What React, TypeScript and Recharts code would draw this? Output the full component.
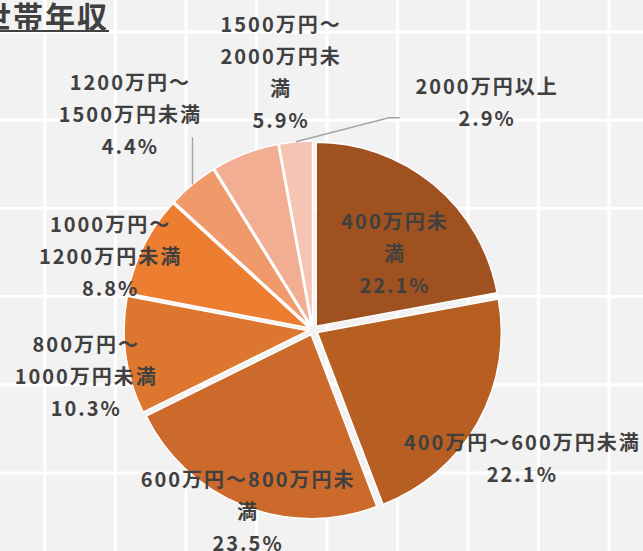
import React from "react";
import { PieChart, Pie, Cell, Sector } from "recharts";

// 世帯年収の分布 (%)
const categories = [
  "400万円未満",
  "400万円～600万円未満",
  "600万円～800万円未満",
  "800万円～1000万円未満",
  "1000万円～1200万円未満",
  "1200万円～1500万円未満",
  "1500万円～2000万円未満",
  "2000万円以上",
];
const shares = [22.1, 22.1, 23.5, 10.3, 8.8, 4.4, 5.9, 2.9];

// how each category name wraps in its label
const nameLines = [
  ["400万円未", "満"],
  ["400万円～600万円未満"],
  ["600万円～800万円未", "満"],
  ["800万円～", "1000万円未満"],
  ["1000万円～", "1200万円未満"],
  ["1200万円～", "1500万円未満"],
  ["1500万円～", "2000万円未", "満"],
  ["2000万円以上"],
];

const colors = [
  "#9f521f",
  "#b75f22",
  "#cb6a2b",
  "#dd772f",
  "#ed7d31",
  "#f0996b",
  "#f2ae93",
  "#f5c4b3",
];

// label placement: radius factor along the slice middle, plus a nudge
const labelPos = [
  { f: 0.62, dx: 9, dy: 10 },
  { f: 1.33, dx: -4, dy: 7 },
  { f: 1.04, dx: 5, dy: 2 },
  { f: 1.26, dx: 3, dy: 14 },
  { f: 1.17, dx: -10, dy: 22 },
  { f: 1.54, dx: -2, dy: 1 },
  { f: 1.42, dx: 62, dy: -15 },
  { f: 1.25, dx: 195, dy: 0 },
];

// leader lines, points relative to the slice's outer middle point
const leaders: Record<number, [number, number][]> = {
  5: [[0, -47]],
  7: [
    [93, -24],
    [104, -24],
  ],
};

const data = categories.map((name, i) => ({ name, value: shares[i] }));

const RAD = Math.PI / 180;
const EXPLODE = 5;
const FONT = "'Noto Sans CJK JP', 'Noto Sans', sans-serif";
const LINE_H = 32;

const ExplodedSector = (props: any) => {
  const a = -props.midAngle * RAD;
  return (
    <Sector
      {...props}
      cx={props.cx + EXPLODE * Math.cos(a)}
      cy={props.cy + EXPLODE * Math.sin(a)}
    />
  );
};

const renderLabel = (props: any) => {
  const { cx, cy, midAngle, outerRadius, index, value } = props;
  const a = -midAngle * RAD;
  const pos = labelPos[index];
  const r = outerRadius * pos.f;
  const x = cx + r * Math.cos(a) + pos.dx;
  const y = cy + r * Math.sin(a) + pos.dy;
  const lines = [...nameLines[index], `${value.toFixed(1)}%`];
  const y0 = y - ((lines.length - 1) * LINE_H) / 2;

  let leader = null;
  if (leaders[index]) {
    const sx = cx + (outerRadius + EXPLODE) * Math.cos(a);
    const sy = cy + (outerRadius + EXPLODE) * Math.sin(a);
    const pts = [[sx, sy], ...leaders[index].map(([px, py]) => [sx + px, sy + py])];
    leader = (
      <polyline
        points={pts.map((p) => p.join(",")).join(" ")}
        fill="none"
        stroke="#a6a6a6"
        strokeWidth={1.5}
      />
    );
  }

  return (
    <g key={`lbl-${index}`}>
      {leader}
      <text
        x={x}
        y={y0}
        textAnchor="middle"
        dominantBaseline="central"
        fill="#404040"
        fontFamily={FONT}
        fontSize={20}
        fontWeight={700}
        letterSpacing={2}
      >
        {lines.map((l, i) => (
          <tspan key={i} x={x} y={y0 + i * LINE_H}>
            {l}
          </tspan>
        ))}
      </text>
    </g>
  );
};

export default function App() {
  return (
    <div
      style={{
        position: "absolute",
        left: 0,
        top: 0,
        width: 643,
        height: 551,
        overflow: "hidden",
        backgroundColor: "#f2f2f2",
        backgroundImage:
          "linear-gradient(to right, #ffffff 3px, transparent 3px), linear-gradient(to bottom, #ffffff 3px, transparent 3px)",
        backgroundSize: "70.5px 88.2px",
        backgroundPosition: "43.5px 30.5px",
      }}
    >
      <div
        style={{
          position: "absolute",
          left: -19,
          top: 0,
          height: 30,
          lineHeight: "30px",
          fontFamily: FONT,
          fontSize: 30,
          fontWeight: 700,
          letterSpacing: 2,
          color: "#404040",
          borderBottom: "2px solid #404040",
          whiteSpace: "nowrap",
        }}
      >
        世帯年収
      </div>
      <PieChart
        width={643}
        height={551}
        margin={{ top: 0, right: 0, bottom: 0, left: 0 }}
        style={{ position: "absolute", left: 0, top: 0 }}
      >
        <Pie
          data={data}
          dataKey="value"
          nameKey="name"
          cx={313}
          cy={330}
          outerRadius={184}
          startAngle={90}
          endAngle={-270}
          stroke="#ffffff"
          strokeWidth={1.5}
          shape={ExplodedSector}
          label={renderLabel}
          labelLine={false}
          isAnimationActive={false}
        >
          {data.map((d, i) => (
            <Cell key={d.name} fill={colors[i]} />
          ))}
        </Pie>
      </PieChart>
    </div>
  );
}
